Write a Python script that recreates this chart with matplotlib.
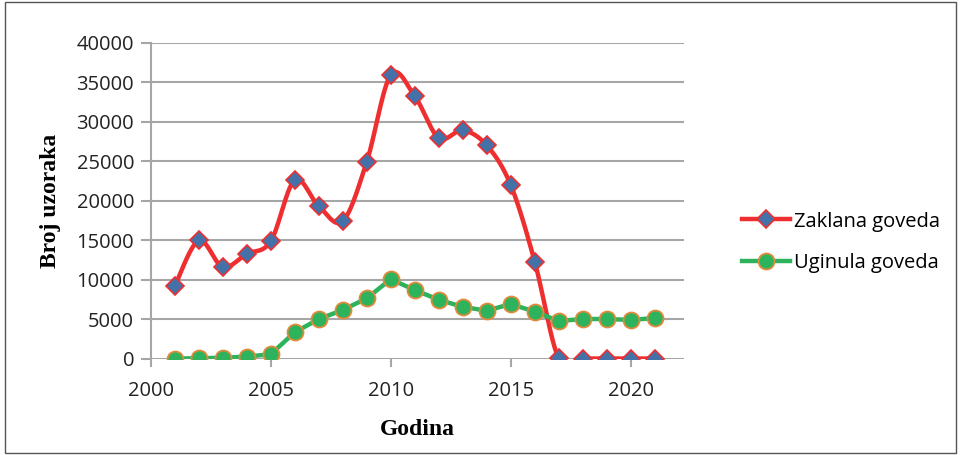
import numpy as np
import matplotlib
matplotlib.use('Agg')
import matplotlib.pyplot as plt
from matplotlib.lines import Line2D
from matplotlib.patches import Rectangle

# data
godine = list(range(2001, 2022))
zaklana = [9200, 15000, 11650, 13300, 14900, 22650, 19350, 17450, 24950, 35950,
           33280, 27980, 28950, 27050, 22020, 12320, 80, 60, 60, 60, 60]
uginula = [50, 100, 150, 300, 600, 3380, 5050, 6200, 7680, 10100,
           8730, 7500, 6600, 6110, 6960, 5990, 4810, 5060, 5060, 4940, 5190]

y_ticks = list(range(0, 40001, 5000))
x_ticks = [2000, 2005, 2010, 2015, 2020]


def smooth(x, y, n=30):
    # Excel-like smoothed line (Catmull-Rom through bezier control points)
    x = np.asarray(x, float)
    y = np.asarray(y, float)
    px = np.concatenate([[x[0]], x, [x[-1]]])
    py = np.concatenate([[y[0]], y, [y[-1]]])
    xs, ys = [], []
    t = np.linspace(0, 1, n)
    for i in range(1, len(px) - 2):
        p0 = np.array([px[i], py[i]])
        p3 = np.array([px[i + 1], py[i + 1]])
        c1 = p0 + (p3 - np.array([px[i - 1], py[i - 1]])) / 6.0
        c2 = p3 - (np.array([px[i + 2], py[i + 2]]) - p0) / 6.0
        b = ((1 - t) ** 3)[:, None] * p0 + (3 * (1 - t) ** 2 * t)[:, None] * c1 \
            + (3 * (1 - t) * t ** 2)[:, None] * c2 + (t ** 3)[:, None] * p3
        xs.extend(b[:, 0])
        ys.extend(b[:, 1])
    return np.array(xs), np.array(ys)


red = '#EE2E2F'
blue = '#4472A8'
green = '#2DB35C'
orange = '#E08A3C'
grid_c = '#A6A6A6'

fig = plt.figure(figsize=(9.6, 4.55), dpi=100)
ax = fig.add_axes([0.157, 0.211, 0.555, 0.6945])

sx, sy = smooth(godine, zaklana)
ax.plot(sx, sy, color=red, lw=3.2, zorder=3, solid_capstyle='round')
ax.plot(godine, zaklana, 'D', ms=9.5, mfc=blue, mec=red, mew=1.2, zorder=4)

ax.plot(godine, uginula, color=green, lw=3.2, zorder=3, solid_joinstyle='round')
ax.plot(godine, uginula, 'o', ms=11.5, mfc=green, mec=orange, mew=1.3, zorder=4)

ax.set_xlim(2000, 2022.2)
ax.set_ylim(0, 40000)
ax.set_xticks(x_ticks)
ax.set_yticks(y_ticks)
ax.yaxis.grid(True, color=grid_c, lw=1.5)
ax.set_axisbelow(True)
for s in ['top', 'right', 'bottom']:
    ax.spines[s].set_visible(False)
ax.spines['left'].set_color(grid_c)
ax.spines['left'].set_linewidth(1.5)
ax.tick_params(axis='y', length=7, width=1.5, color=grid_c, labelsize=14.5, pad=5)
ax.tick_params(axis='x', length=6, width=1.5, color=grid_c, labelsize=14.5, pad=10)
for lab in ax.get_xticklabels() + ax.get_yticklabels():
    lab.set_family('Open Sans')
    lab.set_color('#222222')

ax.set_xlabel('Godina', family='Liberation Serif', fontweight='bold', fontsize=17, labelpad=13)
ax.set_ylabel('Broj uzoraka', family='Liberation Serif', fontweight='bold', fontsize=17, labelpad=11)

h1 = Line2D([], [], color=red, lw=3.2, marker='D', ms=9.5, mfc=blue, mec=red, mew=1.2)
h2 = Line2D([], [], color=green, lw=3.2, marker='o', ms=11.5, mfc=green, mec=orange, mew=1.3)
ax.legend([h1, h2], ['Zaklana goveda', 'Uginula goveda'], loc='center left',
          bbox_to_anchor=(1.076, 0.37), frameon=False, handlelength=2.4,
          handletextpad=0.2, labelspacing=1.05, prop={'family': 'Open Sans', 'size': 14.5})

fig.patches.append(Rectangle((0.0055, 0.005), 0.99, 0.99, transform=fig.transFigure,
                             fill=False, edgecolor='#555555', lw=1.0))

fig.savefig('out.png', dpi=100)
